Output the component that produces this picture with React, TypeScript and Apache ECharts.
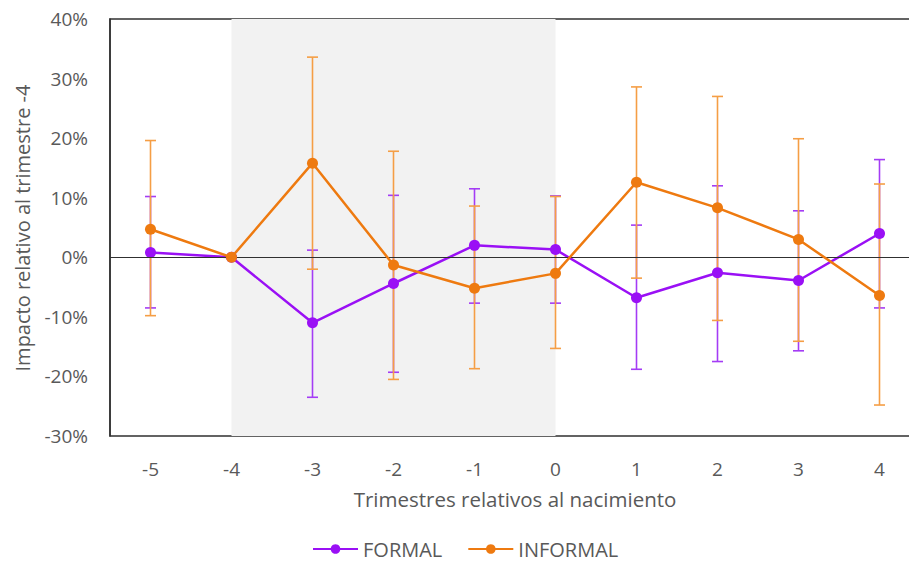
import React, { useEffect, useRef } from "react";
import * as echarts from "echarts";

const categories = ["-5", "-4", "-3", "-2", "-1", "0", "1", "2", "3", "4"];
const formal = [0.8, 0, -11.0, -4.4, 2.0, 1.3, -6.8, -2.6, -3.9, 4.0];
const formalLow = [-8.5, null, -23.5, -19.3, -7.7, -7.7, -18.8, -17.5, -15.7, -8.5];
const formalHigh = [10.2, null, 1.2, 10.4, 11.5, 10.3, 5.4, 12.0, 7.8, 16.4];
const informal = [4.7, 0, 15.8, -1.3, -5.2, -2.7, 12.6, 8.3, 3.0, -6.4];
const informalLow = [-9.8, null, -2.0, -20.5, -18.7, -15.3, -3.5, -10.6, -14.1, -24.8];
const informalHigh = [19.6, null, 33.6, 17.8, 8.6, 10.2, 28.6, 27.0, 19.9, 12.3];
const shadeFrom = "-4";
const shadeTo = "0";

const PURPLE = "#9A10F5";
const PURPLE_ERR = "#A43CF5";
const ORANGE = "#EE7A10";
const ORANGE_ERR = "#F59E45";
const TEXT = "#595959";
const FONT = "Open Sans";

function errData(low: (number | null)[], high: (number | null)[]) {
  const out: any[] = [];
  low.forEach((l, i) => {
    if (l !== null && high[i] !== null) out.push([i, l, high[i]]);
  });
  return out;
}

function errRender(color: string) {
  return (params: any, api: any) => {
    const x = api.value(0);
    const lo = api.coord([x, api.value(1)]);
    const hi = api.coord([x, api.value(2)]);
    const w = 5.5;
    const style = { stroke: color, lineWidth: 1.6, fill: "none" };
    return {
      type: "group",
      children: [
        { type: "line", shape: { x1: lo[0], y1: lo[1], x2: hi[0], y2: hi[1] }, style },
        { type: "line", shape: { x1: hi[0] - w, y1: hi[1], x2: hi[0] + w, y2: hi[1] }, style },
        { type: "line", shape: { x1: lo[0] - w, y1: lo[1], x2: lo[0] + w, y2: lo[1] }, style },
      ],
    };
  };
}

export default function App() {
  const ref = useRef<HTMLDivElement>(null);
  useEffect(() => {
    if (!ref.current) return;
    const chart = echarts.init(ref.current, null, { renderer: "svg" });
    chart.setOption({
      animation: false,
      textStyle: { fontFamily: FONT },
      grid: {
        left: 110,
        top: 19,
        right: 6,
        bottom: 126,
        show: true,
        borderColor: "#303030",
        borderWidth: 1.5,
        backgroundColor: "transparent",
      },
      xAxis: {
        type: "category",
        data: categories,
        boundaryGap: true,
        axisLine: { show: false },
        axisTick: { show: false },
        axisLabel: { color: TEXT, fontSize: 19, margin: 23, fontFamily: FONT },
        name: "Trimestres relativos al nacimiento",
        nameLocation: "middle",
        nameGap: 52,
        nameTextStyle: { color: TEXT, fontSize: 20.5, fontFamily: FONT },
        splitLine: { show: false },
      },
      yAxis: {
        type: "value",
        min: -30,
        max: 40,
        interval: 10,
        axisLine: { show: true, lineStyle: { color: "#303030", width: 1.5 } },
        axisTick: { show: false },
        splitLine: { show: false },
        axisLabel: {
          color: TEXT,
          fontSize: 19,
          margin: 22,
          fontFamily: FONT,
          formatter: (v: number) => `${v}%`,
        },
      },
      legend: {
        data: ["FORMAL", "INFORMAL"],
        left: 307,
        top: 534,
        itemWidth: 45,
        itemHeight: 12,
        itemGap: 25,
        textStyle: { color: TEXT, fontSize: 20, fontFamily: FONT },
      },
      graphic: [
        {
          type: "text",
          x: 22,
          y: 228,
          rotation: Math.PI / 2,
          style: {
            text: "Impacto relativo al trimestre -4",
            fill: TEXT,
            font: `20px "${FONT}"`,
            textAlign: "center",
            textVerticalAlign: "middle",
          },
        },
      ],
      series: [
        {
          name: "shade",
          type: "line",
          data: categories.map(() => null),
          z: 0,
          silent: true,
          markArea: {
            silent: true,
            itemStyle: { color: "#F2F2F2" },
            data: [[{ xAxis: shadeFrom }, { xAxis: shadeTo }]],
          },
          markLine: {
            silent: true,
            symbol: "none",
            label: { show: false },
            lineStyle: { color: "#303030", width: 1.2, type: "solid" },
            data: [{ yAxis: 0 }],
          },
        },
        {
          name: "FORMAL-err",
          type: "custom",
          z: 2,
          silent: true,
          encode: { x: 0, y: [1, 2] },
          renderItem: errRender(PURPLE_ERR),
          data: errData(formalLow, formalHigh),
        },
        {
          name: "INFORMAL-err",
          type: "custom",
          z: 3,
          silent: true,
          encode: { x: 0, y: [1, 2] },
          renderItem: errRender(ORANGE_ERR),
          data: errData(informalLow, informalHigh),
        },
        {
          name: "FORMAL",
          type: "line",
          z: 4,
          data: formal,
          symbol: "circle",
          symbolSize: 11,
          color: PURPLE,
          lineStyle: { color: PURPLE, width: 2.5 },
          itemStyle: { color: PURPLE },
        },
        {
          name: "INFORMAL",
          type: "line",
          z: 5,
          data: informal,
          symbol: "circle",
          symbolSize: 11,
          color: ORANGE,
          lineStyle: { color: ORANGE, width: 2.5 },
          itemStyle: { color: ORANGE },
        },
      ],
    });
    return () => chart.dispose();
  }, []);
  return (
    <div
      ref={ref}
      style={{ position: "fixed", left: 0, top: 0, width: 926, height: 562, background: "#fff" }}
    />
  );
}
